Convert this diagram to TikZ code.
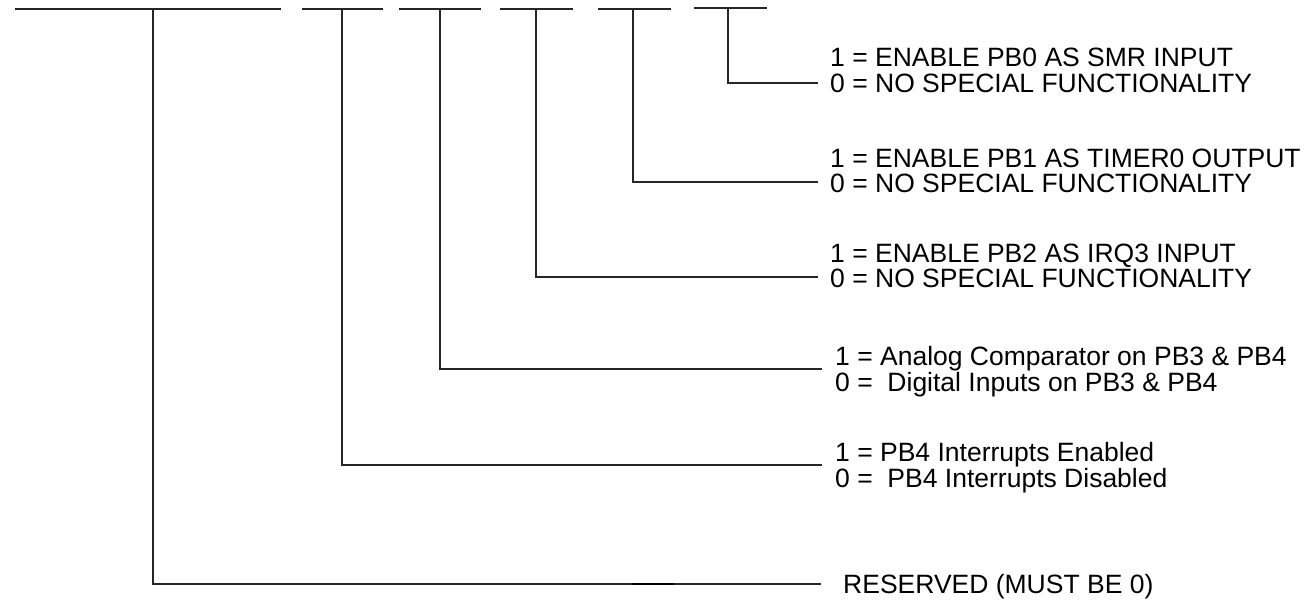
\documentclass[tikz,border=0pt]{standalone}
\usepackage{fontspec}
\setmainfont{Liberation Sans}
\begin{document}
\begin{tikzpicture}[x=1pt,y=-1pt,
  every node/.style={inner sep=0pt, font=\fontsize{26.5}{26}\selectfont},
  lab/.style={anchor=base west},
  wire/.style={draw=black!85, line width=1.1pt}]
\useasboundingbox (0,0) rectangle (1307,603);
% top bit lines
\coordinate (s0a) at (15,9);  \coordinate (s0b) at (281,9);
\coordinate (s1a) at (302,9); \coordinate (s1b) at (383,9);
\coordinate (s2a) at (399,9); \coordinate (s2b) at (481,9);
\coordinate (s3a) at (500,9); \coordinate (s3b) at (573,9);
\coordinate (s4a) at (598,9); \coordinate (s4b) at (671,9);
\coordinate (s5a) at (694,8); \coordinate (s5b) at (767,8);
\foreach \i in {0,...,5} {\draw[wire] (s\i a) -- (s\i b);}
% drop points
\coordinate (v7) at (153,9);
\coordinate (v4) at (342,9);
\coordinate (v3) at (440,9);
\coordinate (v2) at (536,9);
\coordinate (v1) at (633,9);
\coordinate (v0) at (728,8);
% line ends
\coordinate (e0) at (818,83);
\coordinate (e1) at (818,182);
\coordinate (e2) at (818,277);
\coordinate (e3) at (822,369);
\coordinate (e4) at (822,465);
\coordinate (e7) at (821,584);
% labels
\node[lab] (t0a) at (830,66.5) {1 = ENABLE PB0 AS SMR INPUT};
\node[lab] (t0b) at (830,92.5) {0 = NO SPECIAL FUNCTIONALITY};
\node[lab] (t1a) at (830,167.5) {1 = ENABLE PB1 AS TIMER0 OUTPUT};
\node[lab] (t1b) at (830,192.5) {0 = NO SPECIAL FUNCTIONALITY};
\node[lab] (t2a) at (830,262.5) {1 = ENABLE PB2 AS IRQ3 INPUT};
\node[lab] (t2b) at (830,287.5) {0 = NO SPECIAL FUNCTIONALITY};
\node[lab] (t3a) at (835,365.5) {1 = Analog Comparator on PB3 \& PB4};
\node[lab] (t3b) at (835,391.5) {0 = \ Digital Inputs on PB3 \& PB4};
\node[lab] (t4a) at (835,461.5) {1 = PB4 Interrupts Enabled};
\node[lab] (t4b) at (835,487.5) {0 = \ PB4 Interrupts Disabled};
\node[lab] (t7) at (843,593.5) {RESERVED (MUST BE 0)};
% connectors
\draw[wire] (v0) |- (e0);
\draw[wire] (v1) |- (e1);
\draw[wire] (v2) |- (e2);
\draw[wire] (v3) |- (e3);
\draw[wire] (v4) |- (e4);
\draw[wire] (v7) |- (e7);
\coordinate (m1) at (632,584); \coordinate (m2) at (674,584);
\draw[draw=black, line width=1.6pt] (m1) -- (m2);
\end{tikzpicture}
\end{document}
